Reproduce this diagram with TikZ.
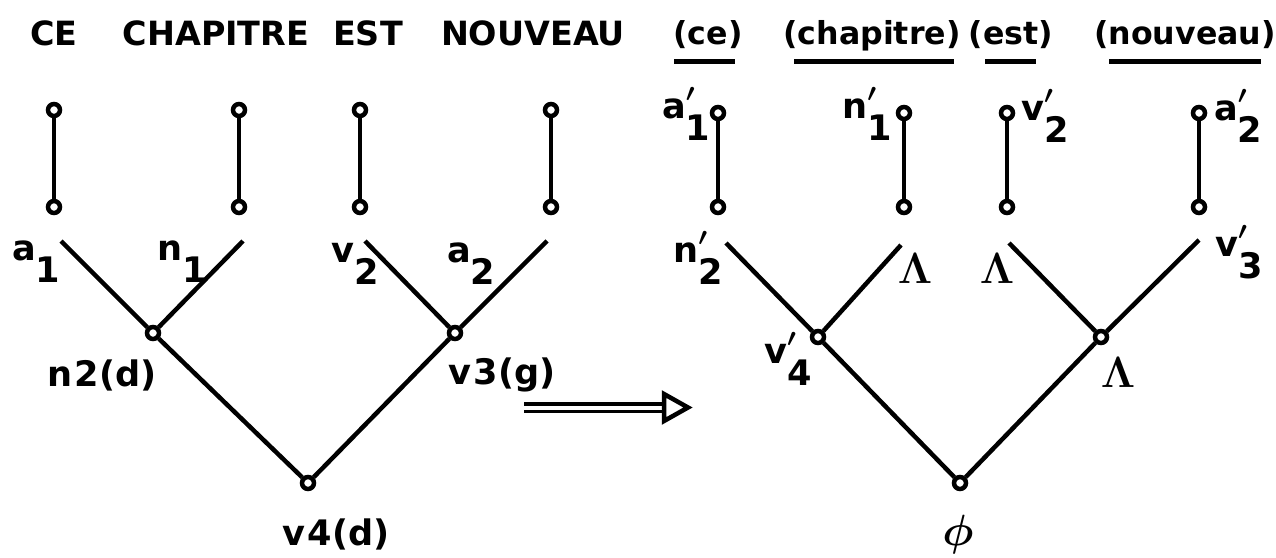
\documentclass[tikz,border=0pt]{standalone}
\usepackage[no-math]{fontspec}
\setmainfont{DejaVu Sans}
\usepackage{bm}
\usetikzlibrary{arrows}

\newcommand{\sublab}[2]{#1\raisebox{-0.65em}{#2}}
\newcommand{\primlab}[2]{#1\rlap{\raisebox{0.1em}{$\bm{'}$}}\raisebox{-0.65em}{#2}}

\begin{document}
\begin{tikzpicture}[x=0.02cm,y=-0.02cm,line width=0.09cm,
    vertex/.style={circle,draw,fill=white,inner sep=0pt,minimum size=0.24cm},
    capword/.style={font=\fontsize{19}{22}\selectfont\bfseries,anchor=base,inner sep=0pt},
    lowword/.style={font=\fontsize{18}{22}\selectfont\bfseries,anchor=base,inner sep=0pt},
    lbl/.style={font=\fontsize{20}{24}\selectfont\bfseries,anchor=base west,inner sep=0pt},
    tag/.style={font=\fontsize{20}{24}\selectfont\bfseries,inner sep=0pt},
    lam/.style={font=\fontsize{25}{28}\selectfont,inner sep=0pt},
    uline/.style={line width=0.1cm}]
    \useasboundingbox (0,0) rectangle (1276,558);

    % left tree
    \draw (54,45) node[capword] (ce) {CE};
    \draw (216,45) node[capword] (chapitre) {CHAPITRE};
    \draw (368,45) node[capword] (est) {EST};
    \draw (533,45) node[capword] (nouveau) {NOUVEAU};

    \draw (54,110) node[vertex] (t1) {};
    \draw (54,207) node[vertex] (b1) {};
    \draw (239,110) node[vertex] (t2) {};
    \draw (239,207) node[vertex] (b2) {};
    \draw (360,110) node[vertex] (t3) {};
    \draw (360,207) node[vertex] (b3) {};
    \draw (551,110) node[vertex] (t4) {};
    \draw (551,207) node[vertex] (b4) {};
      \path (t1) edge (b1) (t2) edge (b2) (t3) edge (b3) (t4) edge (b4);

    \draw (10,260) node[lbl] (a1) {\sublab{a}{1}};
    \draw (155,260) node[lbl] (n1) {\sublab{n}{1}};
    \draw (329,262) node[lbl] (v2) {\sublab{v}{2}};
    \draw (445,262) node[lbl] (a2) {\sublab{a}{2}};

    \coordinate (e1) at (61,241);
    \coordinate (e2) at (243,241);
    \coordinate (e3) at (365,241);
    \coordinate (e4) at (547,241);
    \draw (153,333) node[vertex] (n2) {};
    \draw (455,333) node[vertex] (v3) {};
    \draw (308,483) node[vertex] (v4) {};
      \path (e1) edge (n2) (e2) edge (n2) (e3) edge (v3) (e4) edge (v3);
      \path (n2) edge (v4) (v3) edge (v4);

    \draw (102,375) node[tag] (n2d) {n\kern1.5pt2(d)};
    \draw (502,375) node[tag] (v3g) {v\kern1.5pt3(g)};
    \draw (336,534) node[tag] (v4d) {v\kern1.5pt4(d)};

    % arrow
    \coordinate (arrS) at (524,407.5);
    \coordinate (arrB) at (664,407.5);
    \coordinate (arrE) at (688,407.5);
    \draw[double,double distance=0.08cm,line width=0.065cm] (arrS) -- (arrB);
    \draw (arrB) ++(0,-13.5) -- (arrE) -- ++(-24,13.5) -- cycle;

    % right tree
    \draw (708,44) node[lowword] (ceb) {(ce)};
    \draw (872,44) node[lowword] (chapitreb) {(chapitre)};
    \draw (1011,44) node[lowword] (estb) {(est)};
    \draw (1185,44) node[lowword] (nouveaub) {(nouveau)};
    \draw[uline] (674,61) -- (735,61);
    \draw[uline] (794,61) -- (954,61);
    \draw[uline] (985,61) -- (1036,61);
    \draw[uline] (1109,61) -- (1261,61);

    \draw (718,113) node[vertex] (u1) {};
    \draw (718,207) node[vertex] (w1) {};
    \draw (904,113) node[vertex] (u2) {};
    \draw (904,207) node[vertex] (w2) {};
    \draw (1007,113) node[vertex] (u3) {};
    \draw (1007,207) node[vertex] (w3) {};
    \draw (1199,113) node[vertex] (u4) {};
    \draw (1199,207) node[vertex] (w4) {};
      \path (u1) edge (w1) (u2) edge (w2) (u3) edge (w3) (u4) edge (w4);

    \draw (660,118) node[lbl] (ap1) {\primlab{a}{1}};
    \draw (840,118) node[lbl] (np1) {\primlab{n}{1}};
    \draw (1019,120) node[lbl] (vp2) {\primlab{v}{2}};
    \draw (1212,120) node[lbl] (ap2) {\primlab{a}{2}};
    \draw (671,262) node[lbl] (np2) {\primlab{n}{2}};
    \draw (1213,256) node[lbl] (vp3) {\primlab{v}{3}};
    \draw (762,363) node[lbl] (vp4lab) {\primlab{v}{4}};

    \coordinate (f1) at (726,243);
    \coordinate (f2) at (901,245);
    \coordinate (f3) at (1009,243);
    \coordinate (f4) at (1199,240);
    \draw (818,337) node[vertex] (vp4) {};
    \draw (1101,337) node[vertex] (lamnode) {};
    \draw (960,483) node[vertex] (phinode) {};
      \path (f1) edge (vp4) (f2) edge (vp4) (f3) edge (lamnode) (f4) edge (lamnode);
      \path (vp4) edge (phinode) (lamnode) edge (phinode);

    \draw (915,268) node[lam] (lamA) {$\mathbf{\Lambda}$};
    \draw (997,268) node[lam] (lamB) {$\mathbf{\Lambda}$};
    \draw (1118,372) node[lam] (lamC) {$\mathbf{\Lambda}$};
    \draw (958,535) node[lam,font=\fontsize{32}{36}\selectfont] (phi) {$\bm{\phi}$};
\end{tikzpicture}
\end{document}
